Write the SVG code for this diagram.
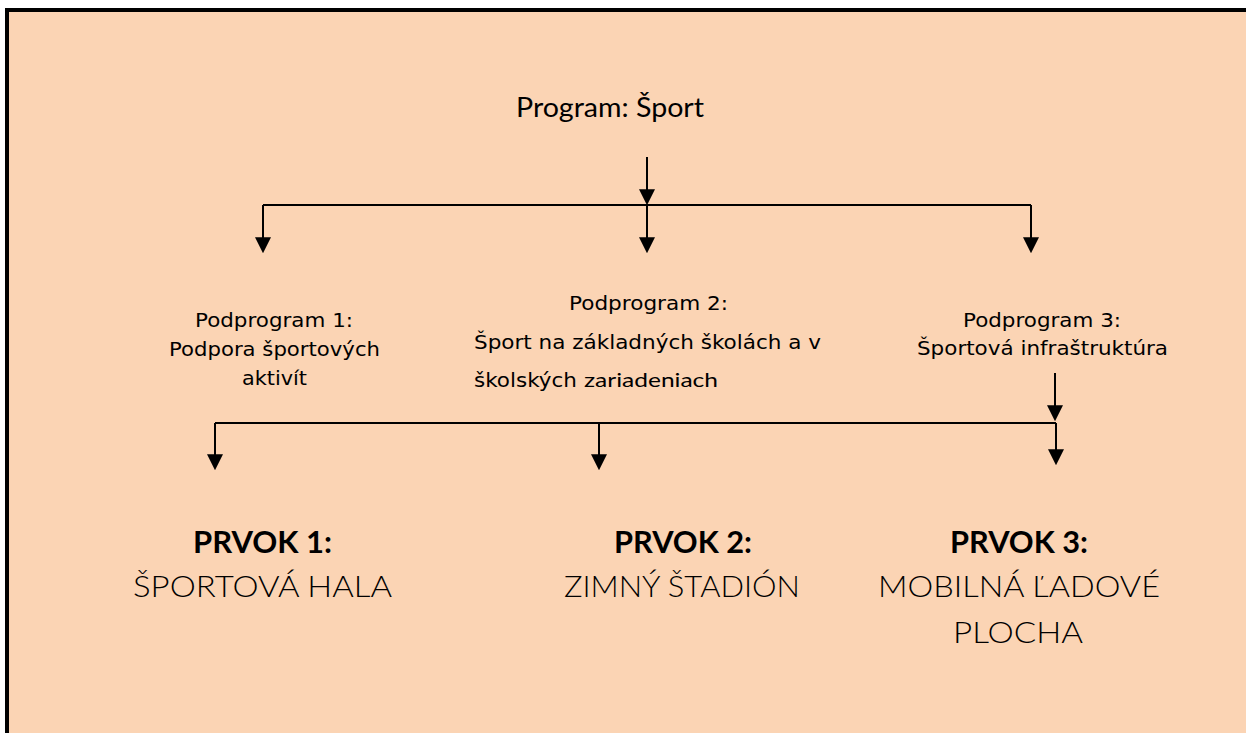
<svg xmlns="http://www.w3.org/2000/svg" width="1246" height="733" viewBox="0 0 1246 733">
<style>
.cg{font-family:Lato,"Open Sans","DejaVu Sans",sans-serif;fill:#000;font-weight:400}
.tv{font-family:"DejaVu Sans",Verdana,sans-serif;font-size:20px;fill:#000}
.b{font-weight:bold;font-size:30px}
.r{font-size:29px;font-weight:300}
.ln{fill:none;stroke:#000;stroke-width:2}
</style>
<defs>
<marker id="ah" markerUnits="userSpaceOnUse" markerWidth="16" markerHeight="16" viewBox="0 0 15 15" refX="11" refY="7.5" orient="auto">
<path d="M0,0 L15,7.5 L0,15 z" fill="#000"/>
</marker>
</defs>
<rect x="7" y="10" width="1260" height="760" fill="#FBD4B4" stroke="#000" stroke-width="4"/>
<g id="connectors">
<path class="ln" d="M647,157 V201" marker-end="url(#ah)"/>
<path class="ln" d="M263,205 H1031"/>
<path class="ln" d="M263,205 V249" marker-end="url(#ah)"/>
<path class="ln" d="M647,205 V249" marker-end="url(#ah)"/>
<path class="ln" d="M1031,205 V249" marker-end="url(#ah)"/>
<path class="ln" d="M1055,373 V417" marker-end="url(#ah)"/>
<path class="ln" d="M215,423 H1056"/>
<path class="ln" d="M215,423 V466" marker-end="url(#ah)"/>
<path class="ln" d="M599,423 V466" marker-end="url(#ah)"/>
<path class="ln" d="M1056,423 V461" marker-end="url(#ah)"/>
</g>
<g id="program">
<text class="cg" x="516" y="117" font-size="26" textLength="188" lengthAdjust="spacingAndGlyphs">Program: Šport</text>
</g>
<g id="podprogram1">
<text class="tv" x="195" y="327" textLength="158" lengthAdjust="spacingAndGlyphs">Podprogram 1:</text>
<text class="tv" x="169" y="356" textLength="211" lengthAdjust="spacingAndGlyphs">Podpora športových</text>
<text class="tv" x="242" y="385" textLength="65" lengthAdjust="spacingAndGlyphs">aktivít</text>
</g>
<g id="podprogram2">
<text class="tv" x="569" y="310" textLength="159" lengthAdjust="spacingAndGlyphs">Podprogram 2:</text>
<text class="tv" x="474" y="349" textLength="347" lengthAdjust="spacingAndGlyphs">Šport na základných školách a v</text>
<text class="tv" x="474" y="387" textLength="103" lengthAdjust="spacingAndGlyphs">školských</text>
<text class="cg" x="584" y="387" font-size="20" textLength="134" lengthAdjust="spacingAndGlyphs">zariadeniach</text>
</g>
<g id="podprogram3">
<text class="tv" x="963" y="327" textLength="158" lengthAdjust="spacingAndGlyphs">Podprogram 3:</text>
<text class="tv" x="917" y="355" textLength="251" lengthAdjust="spacingAndGlyphs">Športová infraštruktúra</text>
</g>
<g id="prvok1">
<text class="cg b" x="193" y="553" textLength="139" lengthAdjust="spacingAndGlyphs">PRVOK 1:</text>
<text class="cg r" x="133" y="597" textLength="259" lengthAdjust="spacingAndGlyphs">ŠPORTOVÁ HALA</text>
</g>
<g id="prvok2">
<text class="cg b" x="614" y="553" textLength="138" lengthAdjust="spacingAndGlyphs">PRVOK 2:</text>
<text class="cg r" x="564" y="597" textLength="236" lengthAdjust="spacingAndGlyphs">ZIMNÝ ŠTADIÓN</text>
</g>
<g id="prvok3">
<text class="cg b" x="950" y="553" textLength="138" lengthAdjust="spacingAndGlyphs">PRVOK 3:</text>
<text class="cg r" x="878" y="597" textLength="282" lengthAdjust="spacingAndGlyphs">MOBILNÁ ĽADOVÉ</text>
<text class="cg r" x="953" y="643" textLength="130" lengthAdjust="spacingAndGlyphs">PLOCHA</text>
</g>
</svg>
